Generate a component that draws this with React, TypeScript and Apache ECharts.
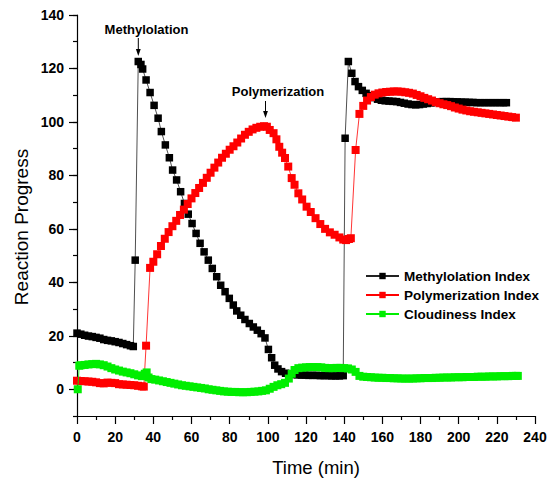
import React, { useEffect, useRef } from "react";
import * as echarts from "echarts";

const seriesNames = ["Methylolation Index", "Polymerization Index", "Cloudiness Index"];
const xTicks = { min: 0, max: 240, interval: 20 };
const yTicks = { min: -10, max: 140, labelMin: 0, interval: 20 };

const methylolation: [number, number][] = [
  [0, 21.0], [2, 20.6], [4, 20.2], [6, 19.9], [8, 19.7], [10, 19.4], [12, 19.1], [14, 18.6],
  [16, 18.3], [18, 18.1], [20, 17.8], [22, 17.5], [24, 17.1], [26, 16.7], [28, 16.3], [29.5, 16.0],
  [30.5, 48.3], [32.1, 122.6], [33.5, 121.5], [34.4, 119.8], [36.2, 115.7], [38.3, 111.0],
  [40.4, 106.2], [42.5, 101.4], [44.2, 96.4], [46.3, 91.4], [48.4, 86.6], [50.1, 82.0],
  [52.2, 78.3], [54.3, 73.9], [56.3, 69.5], [58.3, 65.5], [60.3, 62.0], [62.4, 58.3],
  [64.5, 54.6], [66.6, 51.4], [68.8, 48.3], [70.9, 45.2], [73.2, 42.1], [75.3, 38.9],
  [77.6, 36.5], [79.8, 34.0], [81.9, 31.5], [83.7, 29.3], [85.8, 27.7], [88.0, 26.1],
  [90.3, 24.6], [92.4, 23.3], [94.5, 22.1], [96.5, 20.8], [98.5, 19.2], [100.3, 14.9],
  [102.0, 11.8], [103.6, 9.0], [105.3, 7.6], [107.2, 6.6], [109.3, 6.0], [111.5, 5.7],
  [113.5, 5.5], [115.5, 5.4], [117.5, 5.3], [119.5, 5.3], [121.5, 5.2], [123.5, 5.2],
  [125.5, 5.2], [127.5, 5.1], [129.5, 5.1], [131.5, 5.1], [133.5, 5.0], [135.5, 5.0],
  [137.5, 5.0], [139.5, 5.1],
  [140.5, 93.9], [142.2, 122.6], [144.0, 118.2], [145.7, 115.1], [147.5, 113.2], [149.5, 111.8],
  [151.5, 110.7], [153.5, 109.8], [155.5, 109.1], [157.5, 108.5], [159.5, 108.1], [161.5, 107.9],
  [163.5, 107.8], [165.5, 107.7], [167.5, 107.6], [169.5, 107.3], [171.5, 107.0], [173.5, 106.7],
  [175.5, 106.5], [177.5, 106.4], [179.5, 106.5], [181.5, 106.7], [183.5, 106.9], [185.5, 107.1],
  [187.5, 107.3], [189.5, 107.5], [191.5, 107.6], [193.5, 107.6], [195.5, 107.6], [197.5, 107.5],
  [199.5, 107.5], [201.5, 107.4], [203.5, 107.4], [205.5, 107.3], [207.5, 107.3], [209.5, 107.2],
  [211.5, 107.2], [213.5, 107.2], [215.5, 107.2], [217.5, 107.2], [219.5, 107.2], [221.5, 107.2],
  [223.5, 107.2], [225.0, 107.2],
];

const polymerization: [number, number][] = [
  [0, 3.2], [2, 3.1], [4, 3.0], [6, 2.9], [8, 2.8], [10, 2.6], [12, 2.3], [14, 2.2], [16, 2.5],
  [18, 2.4], [20, 2.3], [22, 1.9], [24, 1.8], [26, 1.7], [28, 1.6], [30, 1.5], [32, 1.3], [34, 1.1],
  [35, 1.0],
  [36.2, 16.3], [38.3, 45.4], [40, 47.7], [42, 50.5], [44, 53.6], [46, 56.3], [48, 58.8], [50, 61.0],
  [52, 63.0], [54, 65.2], [56, 67.2], [58, 69.3], [60, 71.4], [62, 73.4], [64, 75.3], [66, 77.2],
  [68, 79.1], [70, 81.0], [72, 82.9], [74, 84.8], [76, 86.6], [78, 88.1], [80, 89.6], [82, 90.9],
  [84, 92.3], [86, 93.8], [88, 95.2], [90, 96.3], [92, 97.2], [94, 97.8], [96, 98.2], [98, 98.4],
  [99.5, 98.2], [101, 97.0], [103, 95.8], [104.5, 93.5], [106, 90.7], [107.5, 88.5], [109, 86.5],
  [110.7, 83.3], [112.5, 79.0], [114, 76.5], [116, 73.3], [118, 71.0], [120.3, 68.3], [122.5, 66.3],
  [125, 64.0], [127.5, 61.8], [130, 60.0], [132.5, 58.7], [135, 57.8], [137.5, 56.8], [139.5, 56.0],
  [141, 55.8], [142.5, 56.2], [143.5, 56.5],
  [146, 89.5], [148, 103.0], [150, 106.0], [152, 108.0], [154, 109.3], [156, 110.2], [158, 110.7],
  [160, 111.0], [162, 111.2], [164, 111.3], [166, 111.4], [168, 111.4], [170, 111.3], [172, 111.1],
  [174, 110.9], [176, 110.6], [178, 110.1], [180, 109.6], [182, 109.0], [184, 108.5], [186, 108.0],
  [188, 107.4], [190, 107.0], [192, 106.6], [194, 106.3], [196, 105.9], [198, 105.4], [200, 105.0],
  [202, 104.6], [204, 104.3], [206, 104.0], [208, 103.8], [210, 103.6], [212, 103.4], [214, 103.2],
  [216, 103.0], [218, 102.8], [220, 102.6], [222, 102.4], [224, 102.2], [226, 102.0], [228, 101.8],
  [230, 101.6],
];

const cloudiness: [number, number][] = [
  [0.4, 0.0], [1.2, 8.8], [2, 9.0], [4, 9.1], [6, 9.3], [8, 9.4], [10, 9.5], [12, 9.3], [14, 9.0],
  [16, 8.5], [18, 7.9], [20, 7.4], [22, 7.0], [24, 6.6], [26, 6.3], [28, 6.0], [30, 5.6], [32, 5.2],
  [34, 4.9], [35.5, 5.8], [36.5, 6.3], [37.5, 4.4], [39, 3.8], [41, 3.6], [43, 3.3], [45, 3.0],
  [47, 2.7], [49, 2.4], [51, 2.1], [53, 1.8], [55, 1.5], [57, 1.3], [59, 1.1], [61, 0.9], [63, 0.7],
  [65, 0.5], [67, 0.3], [69, 0.0], [71, -0.2], [73, -0.4], [75, -0.6], [77, -0.8], [79, -0.9],
  [81, -1.0], [83, -1.0], [85, -1.1], [87, -1.1], [89, -1.1], [91, -1.0], [93, -0.9], [95, -0.8],
  [97, -0.6], [99, -0.4], [101, 0.2], [103, 0.9], [105, 1.5], [107, 1.9], [109, 2.4], [111, 4.0],
  [112.5, 5.8], [114, 7.2], [116, 7.9], [118, 8.1], [120, 8.2], [122, 8.3], [124, 8.3], [126, 8.3],
  [128, 8.2], [130, 8.0], [132, 7.9], [134, 7.9], [136, 8.0], [138, 8.0], [140, 7.9], [142, 7.8],
  [144, 7.4], [146, 6.5], [148, 5.0], [150, 4.7], [152, 4.6], [154, 4.5], [156, 4.4], [158, 4.3],
  [160, 4.3], [162, 4.2], [164, 4.2], [166, 4.1], [168, 4.1], [170, 4.0], [172, 4.0], [174, 4.0],
  [176, 4.0], [178, 4.1], [180, 4.1], [182, 4.2], [184, 4.2], [186, 4.2], [188, 4.3], [190, 4.3],
  [192, 4.4], [194, 4.4], [196, 4.4], [198, 4.5], [200, 4.5], [202, 4.5], [204, 4.6], [206, 4.6],
  [208, 4.6], [210, 4.7], [212, 4.7], [214, 4.7], [216, 4.8], [218, 4.8], [220, 4.8], [222, 4.9],
  [224, 4.9], [226, 4.9], [228, 5.0], [230, 5.0], [231, 5.0],
];

const annotations = [
  { text: "Methylolation", x: 146.5, y: 29, arrowX: 138.3, arrowTop: 38, arrowTip: 56 },
  { text: "Polymerization", x: 278, y: 91, arrowX: 265.5, arrowTop: 101, arrowTip: 118 },
];

const FONT = "'Liberation Sans', Arial, Helvetica, sans-serif";

export default function App() {
  const ref = useRef<HTMLDivElement>(null);
  useEffect(() => {
    if (!ref.current) return;
    const chart = echarts.init(ref.current, undefined, { renderer: "svg" });
    const H = 479;
    const gridLeft = 77;
    const gridRight = 16;
    const gridTop = 15;
    const gridBottom = 63;
    const plotH = H - gridTop - gridBottom;
    const y0Px = gridTop + (plotH * (yTicks.max - 0)) / (yTicks.max - yTicks.min);

    const graphics: any[] = [
      {
        type: "text",
        x: 21,
        y: 227,
        rotation: Math.PI / 2,
        style: {
          text: "Reaction Progress",
          fontSize: 19,
          fontFamily: FONT,
          fill: "#000",
          textAlign: "center",
          textVerticalAlign: "middle",
        },
      },
      {
        type: "text",
        x: 316,
        y: 467,
        style: {
          text: "Time (min)",
          fontSize: 18.5,
          fontFamily: FONT,
          fill: "#000",
          textAlign: "center",
          textVerticalAlign: "middle",
        },
      },
    ];
    annotations.forEach((a) => {
      graphics.push({
        type: "text",
        x: a.x,
        y: a.y,
        style: {
          text: a.text,
          fontSize: 13,
          fontWeight: "bold",
          fontFamily: FONT,
          fill: "#000",
          textAlign: "center",
          textVerticalAlign: "middle",
        },
      });
      graphics.push({
        type: "line",
        shape: { x1: a.arrowX, y1: a.arrowTop, x2: a.arrowX, y2: a.arrowTip - 5 },
        style: { stroke: "#000", lineWidth: 1 },
      });
      graphics.push({
        type: "polygon",
        shape: {
          points: [
            [a.arrowX - 2.4, a.arrowTip - 7],
            [a.arrowX + 2.4, a.arrowTip - 7],
            [a.arrowX, a.arrowTip],
          ],
        },
        style: { fill: "#000" },
      });
    });

    const tickLabelStyle = {
      color: "#000",
      fontSize: 14,
      fontWeight: "bold" as const,
      fontFamily: FONT,
    };

    chart.setOption({
      animation: false,
      backgroundColor: "#fff",
      grid: [
        { left: gridLeft, right: gridRight, top: gridTop, bottom: gridBottom, containLabel: false },
        { left: gridLeft, right: gridRight, top: gridTop, bottom: H - y0Px, containLabel: false },
      ],
      xAxis: [
        {
          type: "value",
          gridIndex: 0,
          min: xTicks.min,
          max: xTicks.max,
          interval: xTicks.interval,
          axisLine: { show: true, onZero: false, lineStyle: { color: "#000", width: 1.2 } },
          axisTick: { show: true, inside: false, length: 8, lineStyle: { color: "#000", width: 1.2 } },
          minorTick: { show: true, splitNumber: 2, length: 4, lineStyle: { color: "#000", width: 1.2 } },
          axisLabel: { ...tickLabelStyle, margin: 14 },
          splitLine: { show: false },
        },
        {
          type: "value",
          gridIndex: 1,
          min: xTicks.min,
          max: xTicks.max,
          show: false,
        },
      ],
      yAxis: [
        {
          type: "value",
          gridIndex: 0,
          min: yTicks.min,
          max: yTicks.max,
          interval: 10,
          axisLine: { show: true, onZero: false, lineStyle: { color: "#000", width: 1.2 } },
          axisTick: { show: true, inside: false, length: 4, lineStyle: { color: "#000", width: 1.2 } },
          axisLabel: { show: false },
          splitLine: { show: false },
        },
        {
          type: "value",
          gridIndex: 1,
          min: yTicks.labelMin,
          max: yTicks.max,
          interval: yTicks.interval,
          axisLine: { show: false },
          axisTick: { show: true, inside: false, length: 8, lineStyle: { color: "#000", width: 1.2 } },
          axisLabel: { ...tickLabelStyle, margin: 13 },
          splitLine: { show: false },
        },
      ],
      legend: {
        orient: "vertical",
        left: 360,
        top: 264,
        itemWidth: 33,
        itemHeight: 8,
        itemGap: 5,
        data: seriesNames,
        textStyle: { color: "#000", fontSize: 13.5, fontWeight: "bold", fontFamily: FONT },
      },
      series: [
        {
          name: seriesNames[0],
          type: "line",
          xAxisIndex: 0,
          yAxisIndex: 0,
          data: methylolation,
          symbol: "rect",
          symbolSize: 7.5,
          itemStyle: { color: "#000" },
          lineStyle: { color: "#222", width: 0.8 },
          z: 2,
        },
        {
          name: seriesNames[1],
          type: "line",
          xAxisIndex: 0,
          yAxisIndex: 0,
          data: polymerization,
          symbol: "rect",
          symbolSize: 8,
          itemStyle: { color: "#ff0000" },
          lineStyle: { color: "#ff0000", width: 0.8 },
          z: 3,
        },
        {
          name: seriesNames[2],
          type: "line",
          xAxisIndex: 0,
          yAxisIndex: 0,
          data: cloudiness,
          symbol: "rect",
          symbolSize: 8,
          itemStyle: { color: "#00ee00" },
          lineStyle: { color: "#00ee00", width: 0.8 },
          z: 4,
        },
      ],
      graphic: graphics,
    });
    return () => chart.dispose();
  }, []);
  return (
    <div
      ref={ref}
      style={{ position: "fixed", left: 0, top: 0, width: 551, height: 479, background: "#fff" }}
    />
  );
}
